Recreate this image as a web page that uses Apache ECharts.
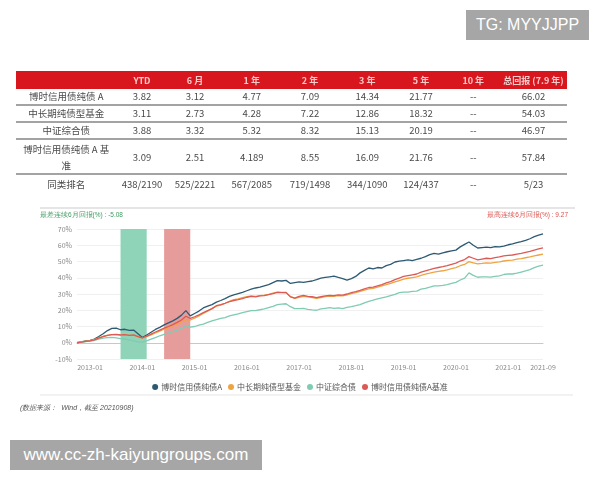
<!DOCTYPE html>
<html><head><meta charset="utf-8">
<script src="https://cdn.jsdelivr.net/npm/echarts@6/dist/echarts.min.js"></script>
<style>
body{margin:0;width:600px;height:480px;background:#fff;position:relative;overflow:hidden;font-family:"Noto Sans CJK SC","Noto Sans",sans-serif;}
#chart{position:absolute;left:0;top:0;width:600px;height:480px;}
#tbl{position:absolute;left:16px;top:71px;width:551px;border-collapse:collapse;table-layout:fixed;font-size:9.5px;color:#4a4a4a;z-index:2;}
#tbl th{background:#d7161d;color:#f9caca;font-weight:bold;height:18px;padding:0;font-size:9px;text-align:center;}
#tbl td{text-align:center;padding:0;height:15px;line-height:15px;border-bottom:2px solid #a3a3a3;}
#tbl tr.tall td{height:33px;line-height:16px;}
#tbl tr.last td{border-bottom:none;height:18px;line-height:18px;}
.wm{position:absolute;background:#a6a6a6;color:#fff;font-family:"Liberation Sans",Arial,sans-serif;text-align:center;line-height:30px;height:30px;z-index:3;}
</style></head>
<body>
<div id="chart"></div>
<table id="tbl"></table>
<div class="wm" style="left:466px;top:10px;width:123px;font-size:16px;">TG: MYYJJPP</div>
<div class="wm" style="left:10px;top:440px;width:252px;font-size:17px;">www.cc-zh-kaiyungroups.com</div>
<script>
// ---- table data ----
const tableHeaders = ["", "YTD", "6 月", "1 年", "2 年", "3 年", "5 年", "10 年", "总回报 (7.9 年)"];
const tableRowLabels = ["博时信用债纯债 A", "中长期纯债型基金", "中证综合债", "博时信用债纯债 A 基|准", "同类排名"];
const rowFund = ["3.82", "3.12", "4.77", "7.09", "14.34", "21.77", "--", "66.02"];
const rowCategory = ["3.11", "2.73", "4.28", "7.22", "12.86", "18.32", "--", "54.03"];
const rowIndex = ["3.88", "3.32", "5.32", "8.32", "15.13", "20.19", "--", "46.97"];
const rowBench = ["3.09", "2.51", "4.189", "8.55", "16.09", "21.76", "--", "57.84"];
const rowRank = ["438/2190", "525/2221", "567/2085", "719/1498", "344/1090", "124/437", "--", "5/23"];

// ---- chart data (monthly, 2012-10 .. 2021-09), cumulative return % ----
const seriesNames = ["博时信用债纯债A", "中长期纯债型基金", "中证综合债", "博时信用债纯债A基准"];
const fundA = [0,0.6,1.2,
 1.5,2.2,3.8,5.5,7.5,8.8,9,8,8.3,7.6,7.8,5.5,
 3.2,4.8,6.5,8.2,9.5,11,12.2,13.5,15,17,19.8,16.5,
 18,19.5,21.4,22.5,23.5,25,26,27.2,28.5,29.4,30.2,31,
 32,33,33.7,34.2,35,35.8,37,38.2,38,38.4,36.5,37,
 37.4,37.2,37.6,38,38.8,39.8,40.2,40.6,41,40.2,39.5,38.6,
 39.5,40.8,43,44.5,46,45.5,46.3,46,47.5,48.2,49.7,50.2,
 50.6,51,50.5,51.3,52,53,54.2,55,54.6,55.3,56,56.5,
 57,59,60.5,62,60,58.3,58.6,58.8,58.5,59.2,59,59.5,
 60.3,60.8,61.6,62.2,63,64,65.3,66.2,67];
const categoryFund = [0,0.5,1,
 1.3,2,3,4,4.6,5,5,4.6,4.8,4.5,4.5,3.8,
 2.8,3.7,4.8,6,7.2,8.3,9.3,10.3,11.5,12.8,14.3,14,
 15.2,16.5,18,19.5,21,22.5,23.2,24.3,25.5,26.5,27,27.8,
 28.4,28.8,28.5,29,29.3,29.8,30.5,31.2,31,30.8,28.5,27.3,
 28,28.6,28.2,27.8,27.3,27.8,28.4,28.7,28.5,29,28.8,29.4,
 30.2,30.8,31.6,32.4,33.2,33.4,34.2,35,35.8,36.5,37.4,38.3,
 39.2,39.7,40.1,40.5,41.5,42.2,42.8,43.5,43.9,44.3,44.9,45.6,
 46.2,47.4,48.2,49.9,49.2,48.5,48.8,49.2,49,49.5,49.8,50.3,
 50.7,50.9,51.4,51.8,52.3,52.8,53.4,54,54.6];
const bondIndex = [0,0.3,0.7,
 1,1.5,2.2,2.8,3.2,3.3,3,2.5,2.3,1.8,1.2,0.6,
 0.4,1.2,2.2,3.2,4.3,5.2,6,6.8,7.8,8.8,10.5,9.6,
 10,10.8,11.5,12.5,13.5,14.2,15,15.5,16.5,17.2,17.8,18.6,
 19.2,19.8,19.8,20.3,20.8,21.6,22.4,23.4,23.8,24,22.2,21,
 21,21.2,20.6,20.2,20,20.8,21.2,21.6,21.2,21.4,21,21.8,
 22.2,22.8,23.5,24.6,25.5,26.2,27,27.6,28.2,29,29.8,30.8,
 31.2,31.2,31.6,31.8,33,33.5,34.2,35,35,35.3,35.8,36.5,
 37.2,38.6,39.8,43,41.5,40.3,40.5,40.6,40.4,40.8,41.2,42,
 42.4,42.3,42.8,43.5,44.2,45,46.2,47.2,47.8];
const benchmark = [0,0.4,0.9,
 1.2,1.8,2.8,3.8,4.6,5,5.2,4.8,5,4.6,4.8,3.8,
 3,4,5.3,6.6,7.8,9,10,11.2,12.5,14,16.3,15,
 16,17.2,18.5,19.8,21,22.8,23.5,24.3,25.3,26,26.5,27.2,
 28,28.5,28.2,28.8,29,29.6,30.2,31,30.8,31,28.2,27.5,
 28.6,29.2,28.6,28.3,27.8,28.3,28.8,29.2,29,29.5,29.3,30,
 30.8,31.5,32.3,33.2,34,34.2,35,35.8,36.8,37.6,38.8,39.8,
 40.8,41.3,41.8,42.3,43.5,44.3,45,45.8,46.3,46.8,47.5,48.3,
 49,50.3,51.2,53,52,51,51.5,52,51.8,52.4,52.8,53.4,
 53.8,54,54.6,55,55.6,56.2,57,57.8,58.4];
const worstPeriod = ["2013-08", "2014-02"];
const bestPeriod = ["2014-06", "2014-12"];
const worstText = "最差连续6月回报(%) : -5.08";
const bestText = "最高连续6月回报(%) : 9.27";
const sourceText = "(数据来源：  Wind，截至 20210908)";

// month categories
const months = [];
{ let y = 2012, m = 10;
  while (months.length < fundA.length) {
    months.push(y + "-" + String(m).padStart(2, "0"));
    m++; if (m > 12) { m = 1; y++; }
  } }

// build table
(function(){
  const t = document.getElementById("tbl");
  const widths = [100.5, 51, 55, 58.5, 58, 56.5, 51, 53.5, 67];
  let h = "<colgroup>" + widths.map(w => `<col style="width:${w}px">`).join("") + "</colgroup>";
  h += "<tr>" + tableHeaders.map(x => `<th>${x}</th>`).join("") + "</tr>";
  const rows = [rowFund, rowCategory, rowIndex, rowBench, rowRank];
  rows.forEach((r, i) => {
    const cls = i === 3 ? "tall" : (i === 4 ? "last" : "");
    const lab = tableRowLabels[i].split("|").join("<br>");
    h += `<tr class="${cls}"><td>${lab}</td>` + r.map(v => `<td>${v}</td>`).join("") + "</tr>";
  });
  t.innerHTML = h;
})();

const colors = ["#2d5a72", "#eea443", "#7fcbb3", "#dc5a55"];
const chart = echarts.init(document.getElementById("chart"), null, {renderer: "canvas"});
const lastIdx = months.length - 1;
const dataArr = [fundA, categoryFund, bondIndex, benchmark];
chart.setOption({
  animation: false,
  textStyle: {fontFamily: '"Noto Sans CJK SC","Noto Sans",sans-serif'},
  color: colors,
  grid: {left: 77, right: 57, top: 229, bottom: 121},
  legend: {
    top: 378, left: "center", icon: "circle", itemWidth: 6, itemHeight: 6, itemGap: 6,
    textStyle: {fontSize: 8, color: "#555", padding: [0, 0, 0, -2]},
    data: seriesNames
  },
  xAxis: {
    type: "category", data: months, boundaryGap: false,
    axisLine: {lineStyle: {color: "#c8c8c8"}},
    axisTick: {show: false},
    axisLabel: {
      fontSize: 7, color: "#888", margin: 5,
      interval: (i, v) => v.endsWith("-01") || i === lastIdx
    }
  },
  yAxis: {
    type: "value", min: -10, max: 70, interval: 10,
    axisLabel: {formatter: "{value}%", fontSize: 7, color: "#888", margin: 5},
    splitLine: {lineStyle: {color: "#f0f0f0"}},
    axisLine: {show: false}, axisTick: {show: false}
  },
  series: seriesNames.map((n, k) => {
    const s = {
      name: n, type: "line", data: dataArr[k], showSymbol: false,
      lineStyle: {width: 1.3, color: colors[k]}, z: 3 + k
    };
    if (k === 0) {
      s.markArea = {
        silent: true,
        data: [
          [{xAxis: worstPeriod[0], itemStyle: {color: "#8fd3b8", opacity: 1}}, {xAxis: worstPeriod[1]}],
          [{xAxis: bestPeriod[0], itemStyle: {color: "#e79c9c", opacity: 1}}, {xAxis: bestPeriod[1]}]
        ]
      };
    }
    return s;
  }),
  graphic: [
    {type: "line", shape: {x1: 40, y1: 208, x2: 575, y2: 208}, style: {stroke: "#dcdcdc", lineWidth: 1.5}},
    {type: "line", shape: {x1: 40, y1: 395, x2: 573, y2: 395}, style: {stroke: "#eeeeee", lineWidth: 1.5}},
    {type: "text", left: 40, top: 212, style: {text: worstText, fill: "#3f9a60", fontSize: 6.5}},
    {type: "text", right: 32, top: 212, style: {text: bestText, fill: "#d9534f", fontSize: 6.5}},
    {type: "text", left: 20, top: 405, style: {text: sourceText, fill: "#555", fontSize: 7, fontStyle: "italic"}}
  ]
});
</script>
</body></html>
